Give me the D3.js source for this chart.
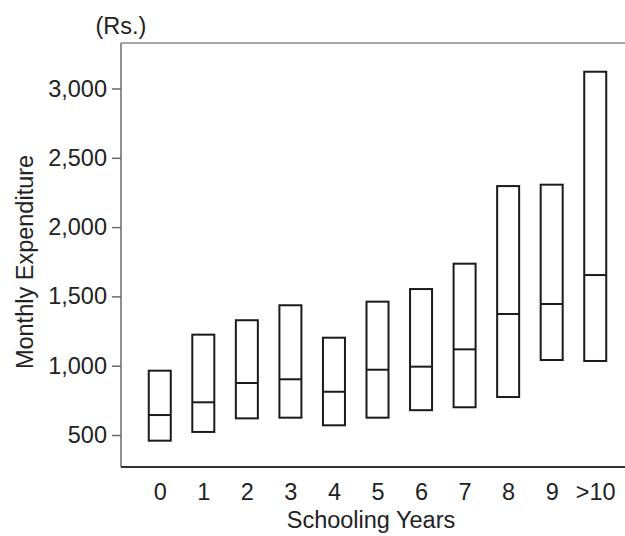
<!DOCTYPE html>
<html>
<head>
<meta charset="utf-8">
<script src="https://cdn.jsdelivr.net/npm/d3@7"></script>
<style>
  body { margin: 0; background: #fff; }
  text { font-family: "Liberation Sans", Arial, sans-serif; fill: #222; }
</style>
</head>
<body>
<svg id="chart" width="625" height="536"></svg>
<script>
// schooling years on the x axis
const categories = ["0", "1", "2", "3", "4", "5", "6", "7", "8", "9", ">10"];
// box bottoms, medians and tops (Rs.)
const lowerQuartile = [459, 522, 620, 625, 570, 625, 679, 700, 774, 1041, 1034];
const medians = [644, 736, 875, 902, 812, 971, 993, 1118, 1373, 1445, 1654];
const upperQuartile = [964, 1224, 1328, 1436, 1202, 1462, 1553, 1736, 2296, 2306, 3121];
const yTicks = [500, 1000, 1500, 2000, 2500, 3000];

const boxes = categories.map((c, i) => ({
    cat: c, lo: lowerQuartile[i], med: medians[i], hi: upperQuartile[i]
}));

const svg = d3.select("#chart");
const plotLeft = 121, plotRight = 634, plotTop = 43, plotBottom = 467;
const fontSize = 23.5;

const x = d3.scalePoint()
    .domain(categories)
    .range([plotLeft, plotRight])
    .padding(0.89);

const y = d3.scaleLinear()
    .domain([500, 3000])
    .range([435, 88.5]);

const boxWidth = 22;

// frame: top line, left axis, bottom axis
svg.append("line")
    .attr("x1", plotLeft).attr("x2", 625).attr("y1", plotTop).attr("y2", plotTop)
    .attr("stroke", "#8a8a8a").attr("stroke-width", 1.5);

// y axis
const yAxis = svg.append("g")
    .attr("transform", `translate(${plotLeft},0)`)
    .call(d3.axisLeft(y).tickValues(yTicks).tickSize(9).tickPadding(5)
        .tickFormat(d3.format(",")));
yAxis.select(".domain").remove();
yAxis.selectAll(".tick line").attr("stroke", "#6a6a6a").attr("stroke-width", 1.5);
yAxis.selectAll(".tick text")
    .attr("font-size", fontSize)
    .attr("fill", "#222")
    .style("font-family", "'Liberation Sans', Arial, sans-serif");

svg.append("line")
    .attr("x1", plotLeft).attr("x2", plotLeft).attr("y1", plotTop).attr("y2", plotBottom)
    .attr("stroke", "#6a6a6a").attr("stroke-width", 1.5);

// x axis, labels only
const xAxis = svg.append("g")
    .attr("transform", `translate(0,${plotBottom})`)
    .call(d3.axisBottom(x).tickSize(0).tickPadding(16));
xAxis.select(".domain").remove();
xAxis.selectAll(".tick text")
    .attr("font-size", fontSize)
    .attr("fill", "#222")
    .style("font-family", "'Liberation Sans', Arial, sans-serif");

svg.append("line")
    .attr("x1", plotLeft).attr("x2", 625).attr("y1", plotBottom).attr("y2", plotBottom)
    .attr("stroke", "#333").attr("stroke-width", 2);

// boxes
const g = svg.append("g");
g.selectAll("rect.box")
    .data(boxes)
    .enter()
    .append("rect")
    .attr("class", "box")
    .attr("x", d => x(d.cat) - boxWidth / 2)
    .attr("width", boxWidth)
    .attr("y", d => y(d.hi))
    .attr("height", d => y(d.lo) - y(d.hi))
    .attr("fill", "none")
    .attr("stroke", "#1a1a1a")
    .attr("stroke-width", 2);

g.selectAll("line.med")
    .data(boxes)
    .enter()
    .append("line")
    .attr("class", "med")
    .attr("x1", d => x(d.cat) - boxWidth / 2)
    .attr("x2", d => x(d.cat) + boxWidth / 2)
    .attr("y1", d => y(d.med))
    .attr("y2", d => y(d.med))
    .attr("stroke", "#1a1a1a")
    .attr("stroke-width", 2);

// titles
svg.append("text")
    .attr("x", 121).attr("y", 34)
    .attr("text-anchor", "middle")
    .attr("font-size", fontSize)
    .text("(Rs.)");

svg.append("text")
    .attr("x", 371).attr("y", 528)
    .attr("text-anchor", "middle")
    .attr("font-size", fontSize)
    .text("Schooling Years");

svg.append("text")
    .attr("transform", "translate(33,262) rotate(-90)")
    .attr("text-anchor", "middle")
    .attr("font-size", fontSize)
    .text("Monthly Expenditure");
</script>
</body>
</html>
